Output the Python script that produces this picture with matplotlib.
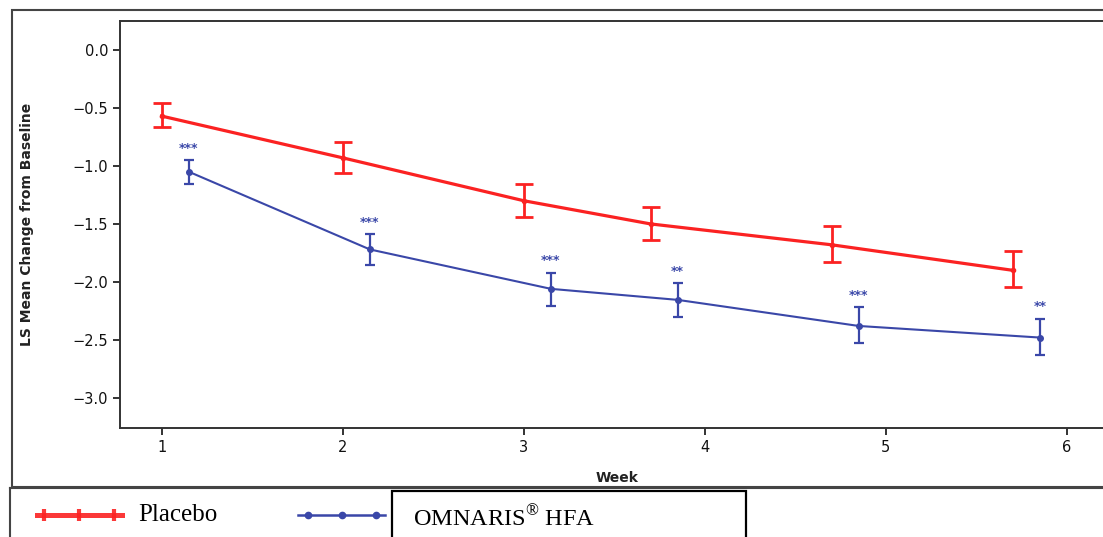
import matplotlib
matplotlib.use("Agg")
import matplotlib.pyplot as plt
from matplotlib.lines import Line2D
from matplotlib.patches import Rectangle

plt.rcParams['mathtext.fontset'] = 'custom'
plt.rcParams['mathtext.rm'] = 'Liberation Serif'

# data
weeks_placebo = [1.0, 2.0, 3.0, 3.7, 4.7, 5.7]
placebo_mean = [-0.57, -0.93, -1.30, -1.50, -1.68, -1.90]
placebo_upper = [-0.455, -0.79, -1.155, -1.35, -1.52, -1.73]
placebo_lower = [-0.66, -1.06, -1.44, -1.64, -1.83, -2.04]

weeks_omnaris = [1.15, 2.15, 3.15, 3.85, 4.85, 5.85]
omnaris_mean = [-1.05, -1.72, -2.06, -2.155, -2.38, -2.48]
omnaris_upper = [-0.95, -1.59, -1.92, -2.01, -2.22, -2.32]
omnaris_lower = [-1.155, -1.85, -2.21, -2.30, -2.53, -2.63]
signif = ['***', '***', '***', '**', '***', '**']

x_ticks = [1, 2, 3, 4, 5, 6]
y_ticks = [0.0, -0.5, -1.0, -1.5, -2.0, -2.5, -3.0]

red = '#fb2222'
blue = '#3a47a8'

W, H = 1103, 537
fig = plt.figure(figsize=(W / 100, H / 100), dpi=100)

def fx(px):
    return px / W

def fy(py):
    return 1 - py / H

ax = fig.add_axes([fx(120), fy(428), fx(W) - fx(120) + 0.01, fy(21) - fy(428)])

p_err = [[m - lo for m, lo in zip(placebo_mean, placebo_lower)],
         [hi - m for m, hi in zip(placebo_mean, placebo_upper)]]
o_err = [[m - lo for m, lo in zip(omnaris_mean, omnaris_lower)],
         [hi - m for m, hi in zip(omnaris_mean, omnaris_upper)]]

ax.errorbar(weeks_placebo, placebo_mean, yerr=p_err, color=red, lw=2.3,
            marker='o', ms=3, elinewidth=2, capsize=6.5, capthick=2)
ax.errorbar(weeks_omnaris, omnaris_mean, yerr=o_err, color=blue, lw=1.5,
            marker='o', ms=4, elinewidth=1.6, capsize=3.8, capthick=1.6)

for x, hi, s in zip(weeks_omnaris, omnaris_upper, signif):
    ax.annotate(s, (x, hi), xytext=(0, 4), textcoords='offset points',
                ha='center', va='bottom', color=blue, fontsize=9, fontweight='bold')

ax.set_xlim(0.77, 6.26)
ax.set_ylim(-3.26, 0.25)
ax.set_xticks(x_ticks)
ax.set_yticks(y_ticks)
ax.set_yticklabels([f"{v:.1f}".replace('-', '\u2212') for v in y_ticks])
ax.tick_params(direction='out', length=5, width=1.2, labelsize=10.5, colors='#111111')
ax.spines['right'].set_visible(False)
for s in ['left', 'bottom', 'top']:
    ax.spines[s].set_linewidth(1.4)
    ax.spines[s].set_color('#333333')
ax.set_xlabel('Week', fontsize=10, fontweight='bold', labelpad=12, color='#222222')
ax.set_ylabel('LS Mean Change from Baseline', fontsize=10, fontweight='bold',
              labelpad=28, color='#222222')

# outer frame around the plot
fig.add_artist(Rectangle((fx(12), fy(487)), 1.0, fy(10) - fy(487),
                         transform=fig.transFigure, fill=False,
                         ec='#444444', lw=1.5))
# legend strip
fig.add_artist(Line2D([fx(10), 1], [fy(488), fy(488)], transform=fig.transFigure,
                      color='#444444', lw=1.5))
fig.add_artist(Line2D([fx(10), fx(10)], [fy(488), 0], transform=fig.transFigure,
                      color='#444444', lw=1.5))
fig.add_artist(Rectangle((fx(392), fy(540)), fx(746) - fx(392), fy(491) - fy(540),
                         transform=fig.transFigure, fill=False, ec='black', lw=1.6))

fig.add_artist(Line2D([fx(37), fx(122)], [fy(515), fy(515)], transform=fig.transFigure,
                      color=red, lw=3.6, alpha=0.9))
for mx in [44, 79, 114]:
    fig.add_artist(Line2D([fx(mx)], [fy(515)], transform=fig.transFigure,
                          color=red, marker='|', ms=8, mew=3, lw=0, alpha=0.9))
fig.add_artist(Line2D([fx(298), fx(385)], [fy(515), fy(515)], transform=fig.transFigure,
                      color=blue, lw=1.8))
for mx in [308, 342, 376]:
    fig.add_artist(Line2D([fx(mx)], [fy(515)], transform=fig.transFigure,
                          color=blue, marker='o', ms=4.5, lw=0))

fig.text(fx(138), fy(515), 'Placebo', family='Liberation Serif', fontsize=18,
         va='center', ha='left')
fig.text(fx(413), fy(518), r'OMNARIS$^{\mathrm{®}}$ HFA', family='Liberation Serif',
         fontsize=17.5, va='center', ha='left')

fig.savefig('out.png', dpi=100)
